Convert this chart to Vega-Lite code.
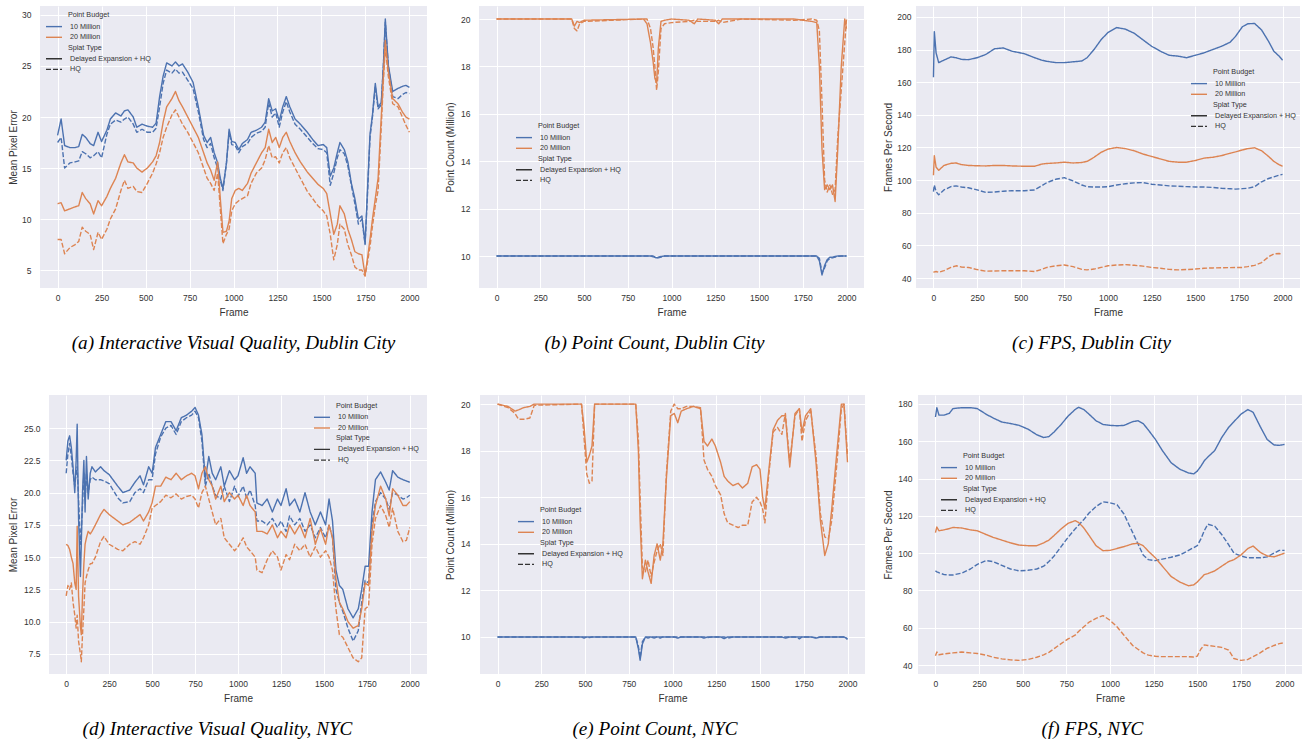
{
"$schema": "https://vega.github.io/schema/vega-lite/v6.json",
"background": "#FFFFFF",
"padding": {"left": 8, "top": 6, "right": 2, "bottom": 2},
"datasets": {
"keys": [
{"k":"A","budget":"10 Million","splat":"Delayed Expansion + HQ"},
{"k":"B","budget":"10 Million","splat":"HQ"},
{"k":"C","budget":"20 Million","splat":"Delayed Expansion + HQ"},
{"k":"D","budget":"20 Million","splat":"HQ"}
],
"a": [
{"f":0,"A":18.2,"B":17.5,"C":11.5,"D":8.0},
{"f":20,"A":19.8,"B":18.0,"C":11.6,"D":8.0},
{"f":40,"A":17.2,"B":15.0,"C":10.8,"D":6.6},
{"f":70,"A":17.0,"B":15.5,"C":11.0,"D":7.2},
{"f":100,"A":17.0,"B":15.6,"C":11.2,"D":7.5},
{"f":120,"A":17.1,"B":15.7,"C":11.3,"D":7.8},
{"f":140,"A":18.3,"B":16.6,"C":12.6,"D":9.2},
{"f":160,"A":18.0,"B":16.4,"C":12.0,"D":8.8},
{"f":185,"A":17.4,"B":16.0,"C":11.5,"D":8.5},
{"f":205,"A":17.2,"B":16.2,"C":10.5,"D":7.0},
{"f":230,"A":18.5,"B":16.6,"C":11.8,"D":8.7},
{"f":250,"A":17.6,"B":16.0,"C":11.3,"D":8.0},
{"f":280,"A":18.7,"B":18.3,"C":12.2,"D":9.0},
{"f":300,"A":19.8,"B":19.3,"C":13.0,"D":10.0},
{"f":330,"A":20.4,"B":19.7,"C":14.0,"D":11.0},
{"f":360,"A":20.1,"B":19.5,"C":15.5,"D":12.8},
{"f":380,"A":20.6,"B":19.8,"C":16.3,"D":13.8},
{"f":400,"A":20.7,"B":20.0,"C":15.6,"D":13.0},
{"f":430,"A":20.0,"B":19.3,"C":15.5,"D":13.2},
{"f":450,"A":19.0,"B":18.5,"C":15.0,"D":12.7},
{"f":480,"A":19.3,"B":18.8,"C":14.6,"D":12.6},
{"f":510,"A":19.1,"B":18.5,"C":15.0,"D":13.5},
{"f":540,"A":19.0,"B":18.5,"C":15.6,"D":14.5},
{"f":560,"A":19.4,"B":18.9,"C":16.2,"D":15.4},
{"f":580,"A":22.0,"B":21.0,"C":17.5,"D":16.5},
{"f":600,"A":24.0,"B":23.3,"C":19.5,"D":18.0},
{"f":620,"A":25.3,"B":24.6,"C":21.0,"D":19.0},
{"f":650,"A":25.0,"B":24.3,"C":21.8,"D":20.2},
{"f":670,"A":25.4,"B":24.7,"C":22.5,"D":20.7},
{"f":690,"A":25.0,"B":24.3,"C":21.6,"D":20.0},
{"f":710,"A":25.2,"B":24.4,"C":21.0,"D":19.3},
{"f":740,"A":24.4,"B":23.6,"C":20.0,"D":18.5},
{"f":770,"A":23.4,"B":22.8,"C":19.0,"D":17.5},
{"f":800,"A":21.0,"B":20.5,"C":18.0,"D":16.5},
{"f":830,"A":18.2,"B":17.8,"C":16.5,"D":15.0},
{"f":850,"A":17.5,"B":17.0,"C":15.5,"D":14.0},
{"f":870,"A":18.0,"B":17.4,"C":14.8,"D":13.5},
{"f":890,"A":16.5,"B":16.0,"C":13.8,"D":12.8},
{"f":910,"A":15.5,"B":15.0,"C":15.6,"D":14.5},
{"f":925,"A":14.0,"B":13.8,"C":12.0,"D":11.0},
{"f":940,"A":13.0,"B":12.8,"C":8.7,"D":7.6},
{"f":960,"A":15.5,"B":15.5,"C":8.8,"D":8.5},
{"f":975,"A":18.8,"B":18.5,"C":9.8,"D":9.0},
{"f":990,"A":17.6,"B":17.3,"C":12.0,"D":10.8},
{"f":1010,"A":17.5,"B":17.2,"C":12.8,"D":11.5},
{"f":1030,"A":16.8,"B":16.5,"C":13.0,"D":11.8},
{"f":1050,"A":17.4,"B":17.1,"C":12.8,"D":12.0},
{"f":1080,"A":17.8,"B":17.4,"C":13.5,"D":12.3},
{"f":1100,"A":18.5,"B":18.0,"C":14.5,"D":13.5},
{"f":1130,"A":18.7,"B":18.4,"C":15.5,"D":14.5},
{"f":1160,"A":19.0,"B":18.6,"C":16.5,"D":15.0},
{"f":1180,"A":19.5,"B":19.0,"C":17.0,"D":15.8},
{"f":1200,"A":21.8,"B":21.4,"C":18.8,"D":17.2},
{"f":1220,"A":20.6,"B":20.0,"C":17.5,"D":16.0},
{"f":1240,"A":20.8,"B":20.4,"C":18.0,"D":16.1},
{"f":1260,"A":19.6,"B":19.0,"C":17.0,"D":15.5},
{"f":1280,"A":21.0,"B":20.5,"C":18.0,"D":16.5},
{"f":1300,"A":22.0,"B":21.5,"C":18.5,"D":17.0},
{"f":1320,"A":21.0,"B":20.5,"C":17.6,"D":16.0},
{"f":1350,"A":19.8,"B":19.3,"C":16.5,"D":15.0},
{"f":1380,"A":19.3,"B":18.8,"C":15.6,"D":14.0},
{"f":1420,"A":18.5,"B":18.0,"C":14.6,"D":12.7},
{"f":1450,"A":17.8,"B":17.4,"C":14.0,"D":12.0},
{"f":1480,"A":17.2,"B":16.9,"C":13.4,"D":11.3},
{"f":1510,"A":17.3,"B":16.8,"C":13.0,"D":10.8},
{"f":1530,"A":17.0,"B":16.5,"C":12.5,"D":10.3},
{"f":1550,"A":14.2,"B":13.3,"C":10.5,"D":8.5},
{"f":1570,"A":15.0,"B":14.5,"C":8.5,"D":6.0},
{"f":1590,"A":16.5,"B":16.0,"C":9.5,"D":7.5},
{"f":1605,"A":17.5,"B":16.8,"C":11.3,"D":9.5},
{"f":1630,"A":16.8,"B":16.4,"C":10.5,"D":9.0},
{"f":1650,"A":15.6,"B":15.2,"C":9.0,"D":7.5},
{"f":1670,"A":13.5,"B":13.3,"C":8.0,"D":6.5},
{"f":1690,"A":12.0,"B":11.5,"C":6.8,"D":5.3},
{"f":1710,"A":10.0,"B":9.5,"C":6.6,"D":5.0},
{"f":1730,"A":10.3,"B":10.0,"C":6.5,"D":5.0},
{"f":1748,"A":7.6,"B":7.5,"C":4.5,"D":4.4},
{"f":1762,"A":13.0,"B":12.5,"C":6.2,"D":5.8},
{"f":1776,"A":18.3,"B":18.0,"C":8.0,"D":7.3},
{"f":1790,"A":20.2,"B":20.0,"C":10.0,"D":9.3},
{"f":1806,"A":23.3,"B":23.0,"C":12.0,"D":11.3},
{"f":1822,"A":21.0,"B":20.8,"C":14.0,"D":12.8},
{"f":1840,"A":21.4,"B":21.2,"C":20.0,"D":19.0},
{"f":1852,"A":25.0,"B":25.0,"C":24.0,"D":23.5},
{"f":1863,"A":29.6,"B":29.3,"C":27.5,"D":26.8},
{"f":1880,"A":25.1,"B":25.0,"C":24.5,"D":24.0},
{"f":1905,"A":22.5,"B":22.0,"C":21.8,"D":21.3},
{"f":1935,"A":22.8,"B":21.8,"C":21.3,"D":21.0},
{"f":1960,"A":23.0,"B":22.2,"C":20.5,"D":20.0},
{"f":1980,"A":23.1,"B":22.4,"C":20.0,"D":19.2},
{"f":2000,"A":22.9,"B":22.3,"C":19.8,"D":18.5}
],
"b": [
{"f":0,"A":10,"B":10,"C":20,"D":20},
{"f":200,"A":10,"B":10,"C":20,"D":20},
{"f":430,"A":10,"B":10,"C":20,"D":20},
{"f":445,"A":10,"B":10,"C":19.7,"D":19.6},
{"f":460,"A":10,"B":10,"C":19.9,"D":19.5},
{"f":475,"A":10,"B":10,"C":19.85,"D":19.8},
{"f":500,"A":10,"B":10,"C":19.95,"D":19.9},
{"f":840,"A":10,"B":10,"C":20,"D":20},
{"f":860,"A":10,"B":10,"C":19.8,"D":20},
{"f":880,"A":10,"B":10,"C":19.0,"D":19.6},
{"f":895,"A":9.97,"B":10,"C":18.2,"D":18.8},
{"f":905,"A":9.94,"B":9.96,"C":17.5,"D":18.0},
{"f":915,"A":9.92,"B":9.93,"C":17.3,"D":17.0},
{"f":925,"A":9.95,"B":9.92,"C":18.8,"D":17.8},
{"f":940,"A":9.98,"B":9.95,"C":19.9,"D":19.6},
{"f":960,"A":10,"B":10,"C":19.95,"D":19.8},
{"f":1000,"A":10,"B":10,"C":20,"D":19.85},
{"f":1100,"A":10,"B":10,"C":19.95,"D":19.9},
{"f":1130,"A":10,"B":10,"C":19.8,"D":19.95},
{"f":1150,"A":10,"B":10,"C":20,"D":19.9},
{"f":1250,"A":10,"B":10,"C":19.95,"D":19.9},
{"f":1270,"A":10,"B":10,"C":19.8,"D":19.95},
{"f":1290,"A":10,"B":10,"C":20,"D":19.85},
{"f":1400,"A":10,"B":10,"C":20,"D":20},
{"f":1700,"A":10,"B":10,"C":20,"D":19.95},
{"f":1800,"A":10,"B":10,"C":19.9,"D":20},
{"f":1830,"A":10,"B":10,"C":19.85,"D":19.95},
{"f":1845,"A":9.8,"B":9.9,"C":18.0,"D":19.5},
{"f":1860,"A":9.2,"B":9.3,"C":14.5,"D":16.5},
{"f":1875,"A":9.6,"B":9.5,"C":12.8,"D":13.2},
{"f":1890,"A":9.85,"B":9.8,"C":13.0,"D":12.7},
{"f":1905,"A":9.95,"B":9.9,"C":12.8,"D":13.0},
{"f":1920,"A":9.95,"B":9.92,"C":13.0,"D":12.6},
{"f":1935,"A":9.98,"B":9.95,"C":12.3,"D":12.8},
{"f":1950,"A":10,"B":9.98,"C":14.5,"D":15.0},
{"f":1970,"A":10,"B":10,"C":18.0,"D":17.0},
{"f":1990,"A":10,"B":10,"C":20,"D":19.0},
{"f":2000,"A":10,"B":10,"C":19.6,"D":20}
],
"c": [
{"f":0,"A":163,"B":93,"C":103,"D":43.5},
{"f":5,"A":191,"B":97,"C":115,"D":43.8},
{"f":15,"A":178,"B":93,"C":108,"D":44},
{"f":30,"A":172,"B":91,"C":106,"D":43.5},
{"f":60,"A":173.5,"B":94,"C":109,"D":44.5},
{"f":100,"A":175.5,"B":96,"C":110.3,"D":46.5},
{"f":130,"A":175,"B":96.5,"C":110.5,"D":47.5},
{"f":160,"A":174,"B":95.8,"C":109.5,"D":46.8},
{"f":200,"A":173.8,"B":95.3,"C":109,"D":46.5},
{"f":250,"A":175,"B":94,"C":108.8,"D":45.2},
{"f":300,"A":177,"B":92.5,"C":108.7,"D":44.2},
{"f":350,"A":180.5,"B":92.7,"C":109,"D":44.3},
{"f":400,"A":181,"B":93.2,"C":109,"D":44.5},
{"f":450,"A":179,"B":93.5,"C":108.7,"D":44.5},
{"f":520,"A":177.5,"B":93.5,"C":108.5,"D":44.5},
{"f":580,"A":175,"B":94,"C":108.5,"D":44},
{"f":620,"A":173.5,"B":96.5,"C":109.8,"D":45.3},
{"f":650,"A":172.8,"B":98.5,"C":110.2,"D":46.5},
{"f":700,"A":172,"B":100.5,"C":110.5,"D":47.5},
{"f":750,"A":172,"B":101.5,"C":111,"D":48},
{"f":800,"A":172.5,"B":99.5,"C":110.5,"D":47},
{"f":850,"A":173,"B":97,"C":110.8,"D":45.3},
{"f":880,"A":175,"B":96,"C":111.5,"D":45},
{"f":920,"A":180,"B":95.8,"C":114,"D":45.5},
{"f":960,"A":186,"B":95.8,"C":117,"D":46.5},
{"f":1000,"A":190.5,"B":96,"C":119,"D":47.5},
{"f":1050,"A":193.5,"B":97,"C":120,"D":48},
{"f":1100,"A":192.5,"B":97.8,"C":119.3,"D":48.2},
{"f":1150,"A":190,"B":98.3,"C":118,"D":47.8},
{"f":1200,"A":186,"B":98.5,"C":116,"D":47.3},
{"f":1250,"A":182,"B":97.5,"C":114.5,"D":46.5},
{"f":1300,"A":179,"B":97,"C":113,"D":46},
{"f":1350,"A":176.5,"B":96.5,"C":111.5,"D":45.3},
{"f":1400,"A":176,"B":96.3,"C":111,"D":45},
{"f":1450,"A":175,"B":96,"C":111,"D":45.2},
{"f":1500,"A":176.5,"B":95.8,"C":112,"D":45.5},
{"f":1550,"A":178,"B":95.8,"C":113.5,"D":46},
{"f":1600,"A":180,"B":95.5,"C":114,"D":46.2},
{"f":1650,"A":182,"B":95,"C":115,"D":46.3},
{"f":1700,"A":184.5,"B":94.7,"C":116.5,"D":46.4},
{"f":1730,"A":188,"B":94.5,"C":117.3,"D":46.5},
{"f":1770,"A":194,"B":94.8,"C":118.5,"D":46.5},
{"f":1800,"A":195.8,"B":95,"C":119.3,"D":47},
{"f":1840,"A":196,"B":96,"C":119.8,"D":47.8},
{"f":1880,"A":192,"B":99,"C":118,"D":49.5},
{"f":1920,"A":185,"B":101,"C":114.5,"D":53},
{"f":1950,"A":179,"B":102,"C":111.5,"D":54.8},
{"f":1980,"A":176,"B":103,"C":109.5,"D":55},
{"f":2000,"A":173.5,"B":103.5,"C":108.5,"D":54.8}
],
"d": [
{"f":0,"A":22.5,"B":21.5,"C":16.0,"D":12.0},
{"f":10,"A":24.0,"B":23.0,"C":15.9,"D":12.8},
{"f":20,"A":24.4,"B":23.8,"C":15.6,"D":12.5},
{"f":30,"A":23.5,"B":22.8,"C":15.0,"D":13.0},
{"f":40,"A":22.0,"B":21.5,"C":14.5,"D":11.5},
{"f":50,"A":20.0,"B":20.5,"C":13.0,"D":10.5},
{"f":58,"A":22.5,"B":21.5,"C":12.5,"D":9.5},
{"f":64,"A":25.3,"B":22.0,"C":17.4,"D":10.5},
{"f":72,"A":18.0,"B":19.5,"C":12.0,"D":8.5},
{"f":83,"A":13.5,"B":16.0,"C":9.6,"D":7.5},
{"f":88,"A":16.0,"B":17.0,"C":9.0,"D":6.9},
{"f":95,"A":20.0,"B":19.0,"C":12.0,"D":9.0},
{"f":103,"A":22.5,"B":21.5,"C":14.5,"D":11.0},
{"f":110,"A":18.5,"B":19.5,"C":16.0,"D":13.0},
{"f":118,"A":22.8,"B":21.5,"C":16.5,"D":13.5},
{"f":128,"A":19.5,"B":20.0,"C":17.0,"D":14.0},
{"f":140,"A":21.5,"B":21.0,"C":16.8,"D":14.5},
{"f":150,"A":22.0,"B":21.2,"C":17.0,"D":14.5},
{"f":170,"A":21.6,"B":21.0,"C":17.5,"D":15.0},
{"f":200,"A":22.0,"B":21.0,"C":18.3,"D":16.2},
{"f":220,"A":21.7,"B":20.9,"C":18.7,"D":16.6},
{"f":250,"A":21.4,"B":20.7,"C":18.3,"D":16.0},
{"f":300,"A":20.5,"B":19.6,"C":17.8,"D":15.6},
{"f":330,"A":20.0,"B":19.2,"C":17.5,"D":15.5},
{"f":370,"A":20.2,"B":19.3,"C":17.7,"D":16.0},
{"f":400,"A":20.8,"B":20.0,"C":18.0,"D":16.2},
{"f":430,"A":21.3,"B":20.3,"C":18.3,"D":16.0},
{"f":450,"A":20.6,"B":20.0,"C":17.8,"D":16.5},
{"f":480,"A":22.0,"B":21.0,"C":18.5,"D":17.5},
{"f":500,"A":21.5,"B":21.0,"C":19.2,"D":18.8},
{"f":520,"A":23.5,"B":23.0,"C":20.5,"D":19.0},
{"f":550,"A":24.5,"B":24.3,"C":20.5,"D":19.3},
{"f":580,"A":25.5,"B":25.0,"C":21.2,"D":19.8},
{"f":610,"A":25.5,"B":25.2,"C":21.0,"D":19.6},
{"f":640,"A":24.8,"B":24.5,"C":21.5,"D":19.9},
{"f":670,"A":25.8,"B":25.5,"C":21.0,"D":19.5},
{"f":700,"A":26.0,"B":25.8,"C":21.3,"D":19.7},
{"f":730,"A":26.3,"B":26.0,"C":21.5,"D":19.8},
{"f":750,"A":26.6,"B":26.3,"C":21.3,"D":19.5},
{"f":770,"A":26.0,"B":25.8,"C":20.3,"D":18.8},
{"f":790,"A":24.5,"B":24.0,"C":21.5,"D":20.0},
{"f":810,"A":21.0,"B":20.5,"C":22.0,"D":20.5},
{"f":830,"A":22.8,"B":21.5,"C":21.0,"D":19.5},
{"f":850,"A":21.5,"B":20.5,"C":20.5,"D":18.5},
{"f":870,"A":21.0,"B":19.8,"C":19.5,"D":17.5},
{"f":900,"A":22.0,"B":19.5,"C":20.5,"D":18.0},
{"f":920,"A":20.5,"B":20.5,"C":19.3,"D":16.5},
{"f":950,"A":21.7,"B":19.3,"C":20.0,"D":16.0},
{"f":980,"A":21.0,"B":20.5,"C":19.5,"D":15.5},
{"f":1000,"A":21.3,"B":19.7,"C":19.8,"D":15.8},
{"f":1030,"A":22.7,"B":20.5,"C":19.0,"D":16.5},
{"f":1050,"A":21.5,"B":19.6,"C":19.8,"D":15.8},
{"f":1070,"A":22.0,"B":20.2,"C":19.0,"D":15.5},
{"f":1100,"A":21.5,"B":19.0,"C":18.5,"D":15.0},
{"f":1110,"A":19.2,"B":17.8,"C":17.0,"D":14.0},
{"f":1140,"A":19.0,"B":17.8,"C":17.0,"D":13.8},
{"f":1170,"A":19.5,"B":17.5,"C":16.8,"D":14.8},
{"f":1200,"A":18.5,"B":18.0,"C":17.5,"D":15.5},
{"f":1230,"A":19.5,"B":17.3,"C":16.5,"D":15.0},
{"f":1250,"A":19.0,"B":17.8,"C":17.0,"D":14.0},
{"f":1280,"A":20.3,"B":17.0,"C":16.5,"D":15.2},
{"f":1300,"A":19.0,"B":18.2,"C":17.5,"D":14.8},
{"f":1330,"A":19.5,"B":17.5,"C":16.8,"D":16.0},
{"f":1360,"A":18.5,"B":18.0,"C":17.5,"D":15.5},
{"f":1390,"A":20.0,"B":17.0,"C":16.5,"D":16.0},
{"f":1420,"A":18.5,"B":17.5,"C":18.0,"D":15.0},
{"f":1450,"A":17.5,"B":16.5,"C":16.0,"D":15.8},
{"f":1480,"A":18.5,"B":17.3,"C":17.2,"D":15.0},
{"f":1510,"A":17.5,"B":16.5,"C":16.0,"D":15.5},
{"f":1530,"A":19.5,"B":17.5,"C":17.5,"D":15.0},
{"f":1550,"A":17.8,"B":16.5,"C":16.5,"D":14.0},
{"f":1570,"A":14.0,"B":12.5,"C":13.3,"D":11.0},
{"f":1590,"A":12.8,"B":11.5,"C":11.5,"D":9.0},
{"f":1610,"A":12.5,"B":10.8,"C":11.0,"D":8.8},
{"f":1640,"A":11.0,"B":9.5,"C":10.0,"D":8.0},
{"f":1670,"A":10.3,"B":8.5,"C":9.5,"D":7.2},
{"f":1700,"A":11.0,"B":9.3,"C":9.7,"D":6.9},
{"f":1720,"A":12.5,"B":11.5,"C":11.0,"D":7.2},
{"f":1740,"A":14.3,"B":13.2,"C":13.0,"D":11.0},
{"f":1760,"A":14.3,"B":13.0,"C":12.8,"D":11.2},
{"f":1780,"A":18.5,"B":17.5,"C":17.0,"D":16.0},
{"f":1800,"A":21.0,"B":19.3,"C":19.0,"D":18.0},
{"f":1830,"A":21.6,"B":20.0,"C":20.5,"D":19.0},
{"f":1860,"A":20.8,"B":19.5,"C":19.5,"D":18.2},
{"f":1880,"A":20.2,"B":18.7,"C":18.2,"D":17.3},
{"f":1900,"A":21.7,"B":20.0,"C":20.3,"D":18.8},
{"f":1930,"A":21.2,"B":19.8,"C":19.8,"D":17.0},
{"f":1960,"A":21.0,"B":19.5,"C":19.0,"D":16.2},
{"f":1980,"A":20.9,"B":19.6,"C":19.0,"D":16.3},
{"f":2000,"A":20.8,"B":19.8,"C":19.3,"D":17.3}
],
"e": [
{"f":0,"A":10,"B":10,"C":20,"D":20},
{"f":60,"A":10,"B":10,"C":19.9,"D":19.85},
{"f":100,"A":10,"B":10,"C":19.7,"D":19.6},
{"f":120,"A":10,"B":10,"C":19.75,"D":19.35},
{"f":150,"A":10,"B":10,"C":19.85,"D":19.35},
{"f":185,"A":10,"B":10,"C":19.9,"D":19.4},
{"f":210,"A":10,"B":10,"C":20,"D":19.95},
{"f":480,"A":10,"B":10,"C":20,"D":20},
{"f":495,"A":9.95,"B":10,"C":19.0,"D":18.5},
{"f":510,"A":10,"B":10,"C":17.5,"D":17.0},
{"f":525,"A":10,"B":9.97,"C":17.8,"D":16.6},
{"f":540,"A":10,"B":10,"C":18.2,"D":16.7},
{"f":555,"A":10,"B":10,"C":20,"D":20},
{"f":790,"A":10,"B":10,"C":20,"D":20},
{"f":805,"A":9.5,"B":9.6,"C":18.0,"D":18.5},
{"f":815,"A":9.0,"B":9.1,"C":15.0,"D":16.0},
{"f":828,"A":9.7,"B":9.8,"C":12.5,"D":13.0},
{"f":845,"A":10,"B":10,"C":13.3,"D":12.8},
{"f":860,"A":10,"B":9.95,"C":12.8,"D":13.3},
{"f":878,"A":10,"B":10,"C":12.3,"D":12.6},
{"f":895,"A":9.95,"B":10,"C":13.5,"D":13.2},
{"f":912,"A":10,"B":10,"C":14.0,"D":13.7},
{"f":930,"A":10,"B":9.95,"C":13.3,"D":14.0},
{"f":945,"A":10,"B":10,"C":14.0,"D":13.5},
{"f":965,"A":10,"B":10,"C":16.8,"D":17.0},
{"f":990,"A":10,"B":10,"C":19.5,"D":19.7},
{"f":1010,"A":10,"B":10,"C":19.6,"D":20},
{"f":1030,"A":9.95,"B":10,"C":19.2,"D":19.8},
{"f":1050,"A":10,"B":10,"C":19.7,"D":19.8},
{"f":1080,"A":10,"B":10,"C":19.8,"D":19.9},
{"f":1120,"A":10,"B":10,"C":19.9,"D":19.9},
{"f":1160,"A":10,"B":10,"C":19.8,"D":19.85},
{"f":1180,"A":9.95,"B":10,"C":18.4,"D":17.6},
{"f":1200,"A":10,"B":9.97,"C":18.2,"D":17.2},
{"f":1225,"A":10,"B":10,"C":18.5,"D":16.9},
{"f":1245,"A":10,"B":10,"C":18.2,"D":16.5},
{"f":1275,"A":10,"B":10,"C":17.5,"D":16.1},
{"f":1295,"A":9.93,"B":10,"C":16.9,"D":15.3},
{"f":1315,"A":10,"B":9.95,"C":16.7,"D":14.9},
{"f":1345,"A":10,"B":10,"C":16.5,"D":14.8},
{"f":1375,"A":10,"B":10,"C":16.6,"D":14.7},
{"f":1400,"A":10,"B":10,"C":16.4,"D":14.8},
{"f":1430,"A":10,"B":10,"C":16.6,"D":14.8},
{"f":1455,"A":10,"B":10,"C":17.3,"D":15.8},
{"f":1480,"A":10,"B":10,"C":17.4,"D":16.0},
{"f":1500,"A":10,"B":10,"C":17.2,"D":15.8},
{"f":1515,"A":10,"B":10,"C":16.0,"D":15.5},
{"f":1528,"A":10,"B":10,"C":15.5,"D":14.9},
{"f":1548,"A":10,"B":10,"C":17.0,"D":16.8},
{"f":1575,"A":10,"B":10,"C":18.9,"D":18.8},
{"f":1600,"A":10,"B":10,"C":19.3,"D":19.0},
{"f":1625,"A":10,"B":10,"C":19.5,"D":18.7},
{"f":1645,"A":9.95,"B":10,"C":19.5,"D":19.6},
{"f":1670,"A":10,"B":10,"C":17.3,"D":17.5},
{"f":1700,"A":10,"B":10,"C":19.6,"D":19.5},
{"f":1725,"A":10,"B":9.92,"C":19.8,"D":19.8},
{"f":1740,"A":10,"B":10,"C":18.8,"D":18.4},
{"f":1760,"A":10,"B":10,"C":19.5,"D":19.3},
{"f":1790,"A":10,"B":10,"C":19.8,"D":19.7},
{"f":1820,"A":9.95,"B":9.97,"C":17.5,"D":17.8},
{"f":1845,"A":10,"B":10,"C":15.0,"D":15.3},
{"f":1870,"A":10,"B":10,"C":13.5,"D":14.3},
{"f":1890,"A":10,"B":10,"C":14.0,"D":14.2},
{"f":1910,"A":10,"B":10,"C":15.5,"D":15.0},
{"f":1940,"A":10,"B":10,"C":18.0,"D":17.5},
{"f":1965,"A":10,"B":10,"C":20,"D":19.8},
{"f":1980,"A":10,"B":10,"C":20,"D":20},
{"f":2000,"A":9.93,"B":9.9,"C":17.5,"D":17.8}
],
"f": [
{"f":0,"A":173,"B":90.5,"C":111,"D":45},
{"f":8,"A":178,"B":90,"C":114,"D":47},
{"f":20,"A":174,"B":89.5,"C":112,"D":45.5},
{"f":50,"A":174,"B":88.5,"C":112.5,"D":46},
{"f":80,"A":175,"B":88.3,"C":113.2,"D":46.3},
{"f":100,"A":177.5,"B":88.3,"C":113.8,"D":46.5},
{"f":150,"A":178,"B":89.3,"C":113.5,"D":47},
{"f":200,"A":178,"B":91.5,"C":112.5,"D":46.5},
{"f":240,"A":177.5,"B":94,"C":112,"D":46.2},
{"f":290,"A":174.5,"B":96,"C":110,"D":45.3},
{"f":330,"A":172.5,"B":95.5,"C":108.5,"D":44.2},
{"f":380,"A":170.3,"B":93.5,"C":107,"D":43.3},
{"f":430,"A":169.5,"B":91.5,"C":105.5,"D":42.8},
{"f":480,"A":168.5,"B":90.5,"C":104.3,"D":42.5},
{"f":530,"A":166.5,"B":90.8,"C":104,"D":43},
{"f":580,"A":163.5,"B":91.5,"C":104,"D":44.2},
{"f":620,"A":162,"B":93,"C":105.5,"D":45.5},
{"f":650,"A":162.5,"B":95.5,"C":107,"D":46.8},
{"f":680,"A":165,"B":98.5,"C":109.5,"D":48.8},
{"f":720,"A":169,"B":103.5,"C":113,"D":51.5},
{"f":760,"A":173.5,"B":108.5,"C":116,"D":54},
{"f":800,"A":177,"B":113,"C":117.4,"D":56},
{"f":820,"A":178.2,"B":115,"C":116.5,"D":58},
{"f":850,"A":177,"B":118,"C":113.5,"D":60.5},
{"f":880,"A":174.5,"B":121.5,"C":109.5,"D":63},
{"f":920,"A":171,"B":125,"C":104,"D":65},
{"f":960,"A":169,"B":127.5,"C":101.3,"D":66.5},
{"f":1000,"A":168.5,"B":127,"C":101.5,"D":64},
{"f":1040,"A":168.3,"B":126,"C":102.5,"D":60.5},
{"f":1080,"A":168.5,"B":121,"C":103.5,"D":56},
{"f":1130,"A":170.5,"B":111,"C":105,"D":50.5},
{"f":1160,"A":171,"B":105,"C":105.3,"D":48.5},
{"f":1190,"A":169.5,"B":99,"C":104,"D":46.5},
{"f":1220,"A":166,"B":96.5,"C":101,"D":45.3},
{"f":1260,"A":161,"B":96,"C":97.5,"D":44.7},
{"f":1300,"A":155,"B":96.8,"C":93,"D":44.5},
{"f":1350,"A":148.5,"B":97.8,"C":87.5,"D":44.5},
{"f":1400,"A":145,"B":99,"C":84.5,"D":44.5},
{"f":1450,"A":143,"B":101.5,"C":82.5,"D":44.5},
{"f":1480,"A":142.5,"B":103,"C":83,"D":44.3},
{"f":1500,"A":144,"B":104,"C":84.5,"D":44.8},
{"f":1520,"A":146.5,"B":107.5,"C":86.5,"D":48.5},
{"f":1540,"A":149.5,"B":112,"C":88.5,"D":50.8},
{"f":1560,"A":151.5,"B":115.5,"C":89,"D":50.5},
{"f":1600,"A":155,"B":114.5,"C":90.5,"D":50},
{"f":1640,"A":162,"B":110,"C":93,"D":49.5},
{"f":1680,"A":167.5,"B":104.5,"C":95.5,"D":48},
{"f":1710,"A":170.5,"B":100,"C":96.5,"D":43.5},
{"f":1750,"A":174.5,"B":98.5,"C":99,"D":42.5},
{"f":1790,"A":177,"B":97.5,"C":102.5,"D":43},
{"f":1820,"A":175.5,"B":97.5,"C":103.8,"D":44.5},
{"f":1860,"A":168,"B":97.5,"C":100.5,"D":46.5},
{"f":1900,"A":161,"B":98,"C":98.5,"D":49},
{"f":1940,"A":158,"B":100,"C":98,"D":50.5},
{"f":1970,"A":157.8,"B":101.5,"C":99,"D":51.5},
{"f":2000,"A":158.3,"B":101.5,"C":100,"D":52}
]
},
"config": {
"font": "Liberation Sans",
"view": {"fill": "#EAEAF2", "stroke": null},
"axis": {"grid": true, "gridColor": "#FFFFFF", "gridWidth": 1, "domain": false, "ticks": false, "tickSize": 0, "labelFontSize": 8.5, "labelColor": "#333333", "titleFontSize": 10, "titleFontWeight": "normal", "titleColor": "#333333", "labelFont": "Liberation Sans", "titleFont": "Liberation Sans"},
"axisY": {"minExtent": 15, "maxExtent": 15},
"axisX": {"labelPadding": 5, "titlePadding": 6, "labelFlush": false, "format": "d"},
"legend": {"orient": "none", "padding": 0, "labelFontSize": 7.2, "titleFontSize": 7.2, "titleFontWeight": "normal", "labelColor": "#333333", "titleColor": "#333333", "labelFont": "Liberation Sans", "titleFont": "Liberation Sans", "symbolSize": 100, "symbolStrokeWidth": 1.4, "symbolType": "M-1.6,0H1.6", "labelOffset": 10, "rowPadding": 0.7, "titlePadding": 2, "labelLimit": 200},
"title": {"font": "Liberation Serif", "fontSize": 19.2, "fontStyle": "italic", "fontWeight": "normal", "color": "#000000", "orient": "bottom", "offset": 16.5, "anchor": "middle"}
},
"bounds": "full",
"spacing": 41,
"resolve": {"scale": {"x": "independent", "y": "independent"}, "legend": {"color": "independent", "strokeDash": "independent"}},
"vconcat": [
{
"hconcat": [
{
"width": 387, "height": 282,
"data": {"name": "a"},
"transform": [{"fold": ["A","B","C","D"], "as": ["k","v"]}, {"lookup": "k", "from": {"data": {"name": "keys"}, "key": "k", "fields": ["budget","splat"]}}],
"mark": {"type": "line", "strokeWidth": 1.4, "strokeJoin": "round", "clip": true},
"encoding": {
"x": {"field": "f", "type": "quantitative", "scale": {"domain": [-100,2100], "nice": false, "zero": false}, "axis": {"title": "Frame", "format": "d", "values": [0,250,500,750,1000,1250,1500,1750,2000]}},
"y": {"field": "v", "type": "quantitative", "scale": {"domain": [3.24,30.88], "nice": false, "zero": false}, "axis": {"title": "Mean Pixel Error", "values": [5,10,15,20,25,30], "titlePadding": 7, "labelPadding": 9}},
"color": {"field": "budget", "type": "nominal", "scale": {"domain": ["10 Million","20 Million"], "range": ["#4C72B0","#DD8452"]}, "legend": {"title": "\u200b\u00a0\u00a0\u00a0\u00a0\u00a0\u00a0\u00a0\u00a0\u00a0\u00a0Point Budget", "orient": "none", "legendX": 8, "legendY": 5.4, "symbolType": "M-1.6,0H1.6"}},
"strokeDash": {"field": "splat", "type": "nominal", "scale": {"domain": ["Delayed Expansion + HQ","HQ"], "range": [[1,0],[5,2]]}, "legend": {"title": "\u200b\u00a0\u00a0\u00a0\u00a0\u00a0\u00a0\u00a0\u00a0\u00a0\u00a0Splat Type", "orient": "none", "legendX": 8, "legendY": 37.5, "symbolType": "M-1.6,0H1.6", "symbolStrokeColor": "#333333"}}
},
"title": {"text": "(a) Interactive Visual Quality, Dublin City", "orient": "bottom", "frame": "group"}
},
{
"width": 385, "height": 282,
"data": {"name": "b"},
"transform": [{"fold": ["A","B","C","D"], "as": ["k","v"]}, {"lookup": "k", "from": {"data": {"name": "keys"}, "key": "k", "fields": ["budget","splat"]}}],
"mark": {"type": "line", "strokeWidth": 1.4, "strokeJoin": "round", "clip": true},
"encoding": {
"x": {"field": "f", "type": "quantitative", "scale": {"domain": [-100,2100], "nice": false, "zero": false}, "axis": {"title": "Frame", "format": "d", "values": [0,250,500,750,1000,1250,1500,1750,2000]}},
"y": {"field": "v", "type": "quantitative", "scale": {"domain": [8.65,20.55], "nice": false, "zero": false}, "axis": {"title": "Point Count (Million)", "values": [10,12,14,16,18,20], "titlePadding": 9, "labelPadding": 9}},
"color": {"field": "budget", "type": "nominal", "scale": {"domain": ["10 Million","20 Million"], "range": ["#4C72B0","#DD8452"]}, "legend": {"title": "\u200b\u00a0\u00a0\u00a0\u00a0\u00a0\u00a0\u00a0\u00a0\u00a0\u00a0Point Budget", "orient": "none", "legendX": 39, "legendY": 116.4, "symbolType": "M-1.6,0H1.6"}},
"strokeDash": {"field": "splat", "type": "nominal", "scale": {"domain": ["Delayed Expansion + HQ","HQ"], "range": [[1,0],[5,2]]}, "legend": {"title": "\u200b\u00a0\u00a0\u00a0\u00a0\u00a0\u00a0\u00a0\u00a0\u00a0\u00a0Splat Type", "orient": "none", "legendX": 39, "legendY": 148.5, "symbolType": "M-1.6,0H1.6", "symbolStrokeColor": "#333333"}}
},
"title": {"text": "(b) Point Count, Dublin City", "orient": "bottom", "frame": "bounds"}
},
{
"width": 384, "height": 282,
"data": {"name": "c"},
"transform": [{"fold": ["A","B","C","D"], "as": ["k","v"]}, {"lookup": "k", "from": {"data": {"name": "keys"}, "key": "k", "fields": ["budget","splat"]}}],
"mark": {"type": "line", "strokeWidth": 1.4, "strokeJoin": "round", "clip": true},
"encoding": {
"x": {"field": "f", "type": "quantitative", "scale": {"domain": [-100,2100], "nice": false, "zero": false}, "axis": {"title": "Frame", "format": "d", "values": [0,250,500,750,1000,1250,1500,1750,2000]}},
"y": {"field": "v", "type": "quantitative", "scale": {"domain": [33.9,206.7], "nice": false, "zero": false}, "axis": {"title": "Frames Per Second", "values": [40,60,80,100,120,140,160,180,200], "titlePadding": 8, "labelPadding": 5}},
"color": {"field": "budget", "type": "nominal", "scale": {"domain": ["10 Million","20 Million"], "range": ["#4C72B0","#DD8452"]}, "legend": {"title": "\u200b\u00a0\u00a0\u00a0\u00a0\u00a0\u00a0\u00a0\u00a0\u00a0\u00a0Point Budget", "orient": "none", "legendX": 277, "legendY": 62.4, "symbolType": "M-1.6,0H1.6"}},
"strokeDash": {"field": "splat", "type": "nominal", "scale": {"domain": ["Delayed Expansion + HQ","HQ"], "range": [[1,0],[5,2]]}, "legend": {"title": "\u200b\u00a0\u00a0\u00a0\u00a0\u00a0\u00a0\u00a0\u00a0\u00a0\u00a0Splat Type", "orient": "none", "legendX": 277, "legendY": 94.5, "symbolType": "M-1.6,0H1.6", "symbolStrokeColor": "#333333"}}
},
"title": {"text": "(c) FPS, Dublin City", "orient": "bottom", "frame": "bounds"}
}
],
"bounds": "flush",
"spacing": 52,
"resolve": {"scale": {"x": "independent", "y": "independent"}, "legend": {"color": "independent", "strokeDash": "independent"}}
},
{
"hconcat": [
{
"hconcat": [
{
"width": 9, "height": 279,
"data": {"values": []},
"mark": {"type": "point"},
"view": {"fill": null, "stroke": null}
},
{
"width": 378, "height": 279,
"data": {"name": "d"},
"transform": [{"fold": ["A","B","C","D"], "as": ["k","v"]}, {"lookup": "k", "from": {"data": {"name": "keys"}, "key": "k", "fields": ["budget","splat"]}}],
"mark": {"type": "line", "strokeWidth": 1.4, "strokeJoin": "round", "clip": true},
"encoding": {
"x": {"field": "f", "type": "quantitative", "scale": {"domain": [-100,2100], "nice": false, "zero": false}, "axis": {"title": "Frame", "format": "d", "values": [0,250,500,750,1000,1250,1500,1750,2000]}},
"y": {"field": "v", "type": "quantitative", "scale": {"domain": [5.95,27.56], "nice": false, "zero": false}, "axis": {"title": "Mean Pixel Error", "values": [7.5,10,12.5,15,17.5,20,22.5,25], "format": ".1f", "titlePadding": 16, "labelPadding": 9}},
"color": {"field": "budget", "type": "nominal", "scale": {"domain": ["10 Million","20 Million"], "range": ["#4C72B0","#DD8452"]}, "legend": {"title": "\u200b\u00a0\u00a0\u00a0\u00a0\u00a0\u00a0\u00a0\u00a0\u00a0\u00a0Point Budget", "orient": "none", "legendX": 267, "legendY": 7.1, "symbolType": "M-1.6,0H1.6"}},
"strokeDash": {"field": "splat", "type": "nominal", "scale": {"domain": ["Delayed Expansion + HQ","HQ"], "range": [[1,0],[5,2]]}, "legend": {"title": "\u200b\u00a0\u00a0\u00a0\u00a0\u00a0\u00a0\u00a0\u00a0\u00a0\u00a0Splat Type", "orient": "none", "legendX": 267, "legendY": 39.2, "symbolType": "M-1.6,0H1.6", "symbolStrokeColor": "#333333"}}
},
"title": {"text": "(d) Interactive Visual Quality, NYC", "orient": "bottom", "frame": "bounds"}
}
],
"bounds": "flush",
"spacing": 0,
"resolve": {"scale": {"x": "independent", "y": "independent"}, "legend": {"color": "independent", "strokeDash": "independent"}}
},
{
"width": 385, "height": 279,
"data": {"name": "e"},
"transform": [{"fold": ["A","B","C","D"], "as": ["k","v"]}, {"lookup": "k", "from": {"data": {"name": "keys"}, "key": "k", "fields": ["budget","splat"]}}],
"mark": {"type": "line", "strokeWidth": 1.4, "strokeJoin": "round", "clip": true},
"encoding": {
"x": {"field": "f", "type": "quantitative", "scale": {"domain": [-100,2100], "nice": false, "zero": false}, "axis": {"title": "Frame", "format": "d", "values": [0,250,500,750,1000,1250,1500,1750,2000]}},
"y": {"field": "v", "type": "quantitative", "scale": {"domain": [8.41,20.39], "nice": false, "zero": false}, "axis": {"title": "Point Count (Million)", "values": [10,12,14,16,18,20], "titlePadding": 10, "labelPadding": 10}},
"color": {"field": "budget", "type": "nominal", "scale": {"domain": ["10 Million","20 Million"], "range": ["#4C72B0","#DD8452"]}, "legend": {"title": "\u200b\u00a0\u00a0\u00a0\u00a0\u00a0\u00a0\u00a0\u00a0\u00a0\u00a0Point Budget", "orient": "none", "legendX": 40, "legendY": 111.4, "symbolType": "M-1.6,0H1.6"}},
"strokeDash": {"field": "splat", "type": "nominal", "scale": {"domain": ["Delayed Expansion + HQ","HQ"], "range": [[1,0],[5,2]]}, "legend": {"title": "\u200b\u00a0\u00a0\u00a0\u00a0\u00a0\u00a0\u00a0\u00a0\u00a0\u00a0Splat Type", "orient": "none", "legendX": 40, "legendY": 143.5, "symbolType": "M-1.6,0H1.6", "symbolStrokeColor": "#333333"}}
},
"title": {"text": "(e) Point Count, NYC", "orient": "bottom", "frame": "bounds"}
},
{
"width": 384, "height": 279,
"data": {"name": "f"},
"transform": [{"fold": ["A","B","C","D"], "as": ["k","v"]}, {"lookup": "k", "from": {"data": {"name": "keys"}, "key": "k", "fields": ["budget","splat"]}}],
"mark": {"type": "line", "strokeWidth": 1.4, "strokeJoin": "round", "clip": true},
"encoding": {
"x": {"field": "f", "type": "quantitative", "scale": {"domain": [-100,2100], "nice": false, "zero": false}, "axis": {"title": "Frame", "format": "d", "values": [0,250,500,750,1000,1250,1500,1750,2000]}},
"y": {"field": "v", "type": "quantitative", "scale": {"domain": [35.2,184.8], "nice": false, "zero": false}, "axis": {"title": "Frames Per Second", "values": [40,60,80,100,120,140,160,180], "titlePadding": 10, "labelPadding": 6}},
"color": {"field": "budget", "type": "nominal", "scale": {"domain": ["10 Million","20 Million"], "range": ["#4C72B0","#DD8452"]}, "legend": {"title": "\u200b\u00a0\u00a0\u00a0\u00a0\u00a0\u00a0\u00a0\u00a0\u00a0\u00a0Point Budget", "orient": "none", "legendX": 25, "legendY": 57.4, "symbolType": "M-1.6,0H1.6"}},
"strokeDash": {"field": "splat", "type": "nominal", "scale": {"domain": ["Delayed Expansion + HQ","HQ"], "range": [[1,0],[5,2]]}, "legend": {"title": "\u200b\u00a0\u00a0\u00a0\u00a0\u00a0\u00a0\u00a0\u00a0\u00a0\u00a0Splat Type", "orient": "none", "legendX": 25, "legendY": 89.5, "symbolType": "M-1.6,0H1.6", "symbolStrokeColor": "#333333"}}
},
"title": {"text": "(f) FPS, NYC", "orient": "bottom", "frame": "bounds"}
}
],
"bounds": "full",
"spacing": 18,
"resolve": {"scale": {"x": "independent", "y": "independent"}, "legend": {"color": "independent", "strokeDash": "independent"}}
}
]
}
